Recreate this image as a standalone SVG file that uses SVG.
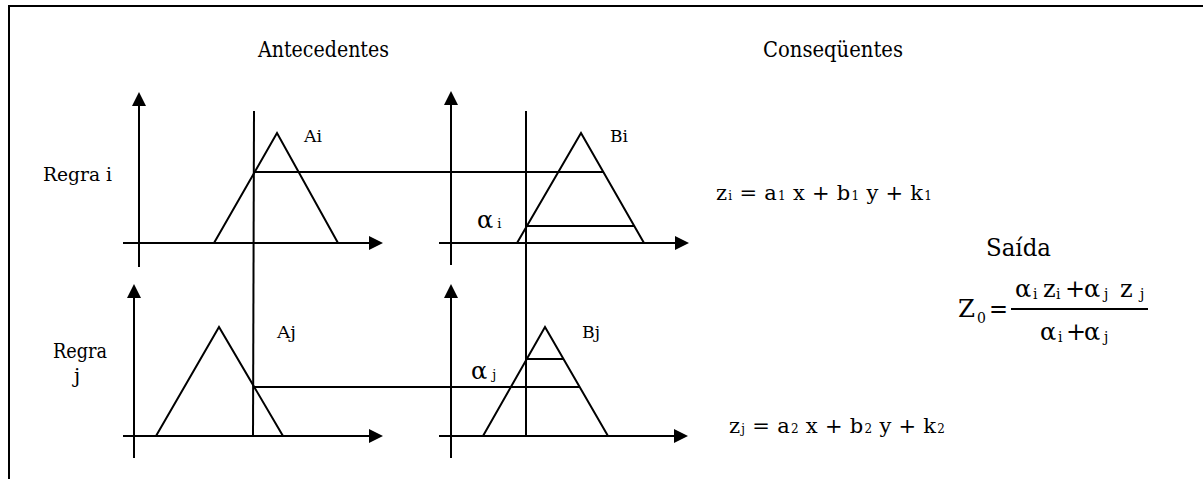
<svg xmlns="http://www.w3.org/2000/svg" width="1203" height="479" viewBox="0 0 1203 479">
<style>
.ln{stroke:#000;stroke-width:2;fill:none}
.ax{stroke:#000;stroke-width:2;fill:none;marker-end:url(#ah)}
text{font-family:'DejaVu Serif','Liberation Serif',serif;fill:#000}
.sm{font-size:12px}
</style>
<defs>
<marker id="ah" markerUnits="userSpaceOnUse" markerWidth="15" markerHeight="15" refX="0" refY="7" orient="auto">
<path d="M0,0 L14,7 L0,14 z" fill="#000"/>
</marker>
</defs>
<rect width="1203" height="479" fill="#fff"/>
<path class="ln" d="M9,479 V6 H1203"/>
<text x="258" y="57" font-size="22" textLength="131" lengthAdjust="spacingAndGlyphs">Antecedentes</text>
<text x="763" y="57" font-size="22" textLength="140" lengthAdjust="spacingAndGlyphs">Conseqüentes</text>
<text x="43" y="181" font-size="19" textLength="69" lengthAdjust="spacingAndGlyphs">Regra i</text>
<g id="regra-j-label"><text x="53" y="358" font-size="20" textLength="54" lengthAdjust="spacingAndGlyphs">Regra</text><text x="74" y="383" font-size="20">j</text></g>

<g id="ant-i">
<path class="ax" d="M139,267 V106"/>
<path class="ax" d="M123,243 H369"/>
<path class="ln" d="M214,243 L277,133 L338,243"/>
<text x="304" y="142" font-size="17" textLength="18" lengthAdjust="spacingAndGlyphs">Ai</text>
</g>
<g id="cons-i">
<path class="ax" d="M451,265 V105"/>
<path class="ax" d="M439,243 H675"/>
<path class="ln" d="M517,243 L581,133 L644,243"/>
<path class="ln" d="M527,226 H634"/>
<text x="610" y="142" font-size="17" textLength="18" lengthAdjust="spacingAndGlyphs">Bi</text>
<text x="477" y="228" font-size="24">α<tspan font-size="13" dx="4">i</tspan></text>
</g>
<g id="ant-j">
<path class="ax" d="M134,458 V298"/>
<path class="ax" d="M123,436 H369"/>
<path class="ln" d="M156,436 L219,327 L283,436"/>
<text x="277" y="338" font-size="17" textLength="19" lengthAdjust="spacingAndGlyphs">Aj</text>
</g>
<g id="cons-j">
<path class="ax" d="M451,458 V298"/>
<path class="ax" d="M439,436 H674"/>
<path class="ln" d="M483,436 L545,327 L608,436"/>
<path class="ln" d="M526,359 H564"/>
<text x="582" y="338" font-size="17" textLength="18" lengthAdjust="spacingAndGlyphs">Bj</text>
<text x="471" y="379" font-size="24">α<tspan font-size="13" dx="5">j</tspan></text>
</g>
<g id="connectors">
<path class="ln" d="M254,111 L253,436"/>
<path class="ln" d="M526,111 V436"/>
<path class="ln" d="M254,172 H603"/>
<path class="ln" d="M253,387 H580"/>
</g>
<g id="eq-i">
<text x="716" y="200" font-size="21" textLength="216" lengthAdjust="spacing">z<tspan class="sm" dx="1">i</tspan> = a<tspan class="sm" dx="1">1</tspan> x + b<tspan class="sm" dx="1">1</tspan> y + k<tspan class="sm" dx="1">1</tspan></text>
</g>
<g id="eq-j">
<text x="729" y="433" font-size="21" textLength="216" lengthAdjust="spacing">z<tspan class="sm" dx="1">j</tspan> = a<tspan class="sm" dx="1">2</tspan> x + b<tspan class="sm" dx="1">2</tspan> y + k<tspan class="sm" dx="1">2</tspan></text>
</g>
<g id="saida">
<text x="986" y="256" font-size="25" textLength="65" lengthAdjust="spacingAndGlyphs">Saída</text>
<text x="958" y="317" font-size="25" textLength="17" lengthAdjust="spacingAndGlyphs">Z</text>
<text x="977" y="323" font-size="14">0</text>
<text x="989" y="317" font-size="25" textLength="19" lengthAdjust="spacingAndGlyphs">=</text>
<path class="ln" d="M1011,309 H1148" stroke-width="1.5"/>
<text y="297" font-size="24"><tspan x="1015">α</tspan><tspan x="1033" font-size="14" dy="2">i</tspan><tspan x="1043" dy="-2">z</tspan><tspan x="1056" font-size="14" dy="2">i</tspan><tspan x="1065" dy="-2">+</tspan><tspan x="1084">α</tspan><tspan x="1104" font-size="14" dy="2">j</tspan><tspan x="1120" dy="-2">z</tspan><tspan x="1140" font-size="14" dy="2">j</tspan></text>
<text y="340" font-size="24"><tspan x="1040">α</tspan><tspan x="1058" font-size="14" dy="2">i</tspan><tspan x="1066" dy="-2">+</tspan><tspan x="1084">α</tspan><tspan x="1104" font-size="14" dy="2">j</tspan></text>
</g>
</svg>
